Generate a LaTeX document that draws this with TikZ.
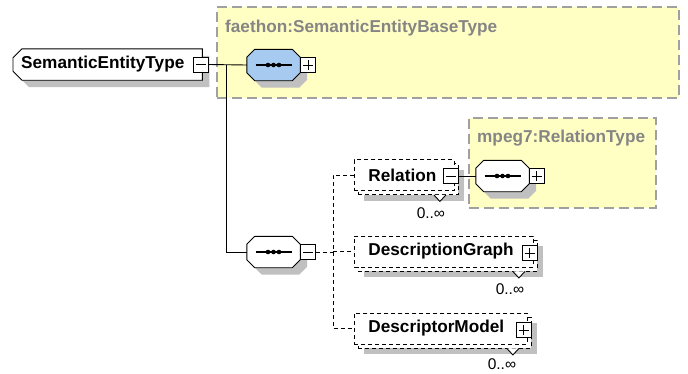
\documentclass[tikz,border=0pt]{standalone}
\usepackage{fontspec}
\newfontfamily\xf{Liberation Sans}
\usetikzlibrary{shadows}
\definecolor{yel}{HTML}{FFFFC4}
\definecolor{ybord}{HTML}{A0A0A0}
\definecolor{ytext}{HTML}{858585}
\definecolor{sky}{HTML}{A6CAF0}
\definecolor{shd}{HTML}{C0C0C0}
% octagon through the corners of a node: #1 options, #2 node, #3 chamfer
\newcommand\xoct[3]{%
  \path[#1] ([xshift=#3]#2.north west) -- ([xshift=-#3]#2.north east) -- ([yshift=-#3]#2.north east)
    -- ([yshift=#3]#2.south east) -- ([xshift=-#3]#2.south east) -- ([xshift=#3]#2.south west)
    -- ([yshift=#3]#2.south west) -- ([yshift=-#3]#2.north west) -- cycle;}
% shape with chamfered left corners only
\newcommand\xleft[3]{%
  \path[#1] ([xshift=#3]#2.north west) -- (#2.north east) -- (#2.south east) -- ([xshift=#3]#2.south west)
    -- ([yshift=#3]#2.south west) -- ([yshift=-#3]#2.north west) -- cycle;}
% sequence compositor drawn on a node: #1 node, #2 fill
\newcommand\xseq[2]{%
  \xoct{fill=shd, transform canvas={shift={(7pt,-7pt)}}}{#1}{8pt}
  \xoct{draw, line width=0.9pt, fill=#2}{#1}{8pt}
  \draw[line width=1.1pt] ([xshift=-18pt]#1.center) -- ([xshift=18pt]#1.center);
  \foreach \d in {-5.5,0,5.5} \fill[black] ([xshift=\d pt]#1.center) circle (2.3pt);}
\begin{document}
\begin{tikzpicture}[x=1pt,y=-1pt,
  lw/.style={line width=0.9pt},
  bigfont/.style={font=\xf\bfseries\fontsize{17.2}{20}\selectfont},
  ybox/.style={draw=ybord, fill=yel, line width=1.5pt, dash pattern=on 10pt off 5pt, inner sep=0pt, anchor=north west},
  ylab/.style={bigfont, text=ytext, anchor=west, inner sep=0pt},
  conn/.style={lw},
  dconn/.style={lw, dash pattern=on 4pt off 3pt},
  pmbox/.style={draw, fill=white, minimum size=15pt, inner sep=0pt, lw},
  minusbox/.style={pmbox, path picture={\draw[lw] ([xshift=2.5pt]path picture bounding box.west) -- ([xshift=-2.5pt]path picture bounding box.east);}},
  plusbox/.style={pmbox, path picture={\draw[lw] ([xshift=2.5pt]path picture bounding box.west) -- ([xshift=-2.5pt]path picture bounding box.east) ([yshift=2.5pt]path picture bounding box.south) -- ([yshift=-2.5pt]path picture bounding box.north);}},
  seqbox/.style={rectangle, minimum width=53pt, minimum height=31pt, inner sep=0pt},
  elem/.style={draw, fill=white, lw, dash pattern=on 4pt off 3pt, minimum height=31pt, inner xsep=14pt, inner ysep=0pt, align=left, anchor=west, bigfont,
    general shadow={fill=shd, shadow xshift=10pt, shadow yshift=-10pt},
    general shadow={draw=black, fill=white, line width=0.9pt, dash pattern=on 4pt off 3pt, shadow xshift=4pt, shadow yshift=-4pt}},
  card/.style={font=\xf\fontsize{15.5}{18}\selectfont, inner sep=0pt},
  notch/.style={line width=0.9pt},
]
\useasboundingbox (0,0) rectangle (688,373);
\fill[white] (0,0) rectangle (688,373);

% yellow type boxes
\node (yb1) [ybox, minimum width=462pt, minimum height=91pt] at (216,6) {};
\node (yl1) [ylab] at (225,28) {faethon:SemanticEntityBaseType};
\node (yb2) [ybox, minimum width=187pt, minimum height=90pt] at (468,117) {};
\node (yl2) [ylab] at (477,138) {mpeg7:RelationType};

% root element
\node (set) [rectangle, minimum width=189pt, minimum height=31pt, inner sep=0pt, anchor=west] at (13,64.5) {};
\xleft{fill=shd, transform canvas={shift={(7pt,-7pt)}}}{set}{9pt}
\xleft{draw, line width=0.9pt, fill=white}{set}{9pt}
\node (settxt) [bigfont, anchor=west, inner sep=0pt] at (21,64.5) {SemanticEntityType};
\node (setm) [minusbox] at (201,64.5) {};

% sequences
\node (seq1) [seqbox] at (273.5,65) {};
\xseq{seq1}{sky}
\node (seq1p) [plusbox] at (308,65) {};
\node (seq2) [seqbox] at (273.5,252) {};
\xseq{seq2}{white}
\node (seq2m) [minusbox] at (308,252) {};
\node (seq3) [seqbox] at (502.5,176) {};
\xseq{seq3}{white}
\node (seq3p) [plusbox] at (536.5,176) {};

% child elements
\node (rel) [elem, text width=72pt] at (354,175) {Relation};
\node (relm) [minusbox] at (451,176) {};
\node (dg) [elem, text width=151pt] at (354,251.5) {DescriptionGraph};
\node (dgp) [plusbox] at (529.5,253) {};
\node (dm) [elem, text width=145pt] at (354,328.5) {DescriptorModel};
\node (dmp) [plusbox] at (523.5,330) {};

% occurrence notches and cardinalities
\foreach \n in {rel,dg,dm}{
  \fill[white] ([shift={(-21,4)}]\n.south east) -- ++(6,6.5) -- ++(6,-6.5) -- cycle;
  \draw[notch] ([shift={(-21,4)}]\n.south east) -- ++(6,6.5) -- ++(6,-6.5);
}
\node (relc) [card] at ([shift={(-24,22)}]rel.south east) {0..∞};
\node (dgc) [card] at ([shift={(-24,22)}]dg.south east) {0..∞};
\node (dmc) [card] at ([shift={(-26,20)}]dm.south east) {0..∞};

% connectors
\coordinate (j1) at (226,65);
\coordinate (j2) at (333,0);
\draw[conn] (setm.east) -- (seq1.west);
\draw[conn] (j1) |- (seq2.west);
\draw[conn] (relm.east) -- (relm.east -| seq3.west);
\draw[dconn] (seq2m.east) -- (seq2m.east -| j2);
\draw[dconn] (rel.west) -- (rel.west -| j2) -- (j2 |- dm.west) -- (dm.west);
\draw[dconn] (j2 |- dg.west) -- (dg.west);
\end{tikzpicture}
\end{document}
